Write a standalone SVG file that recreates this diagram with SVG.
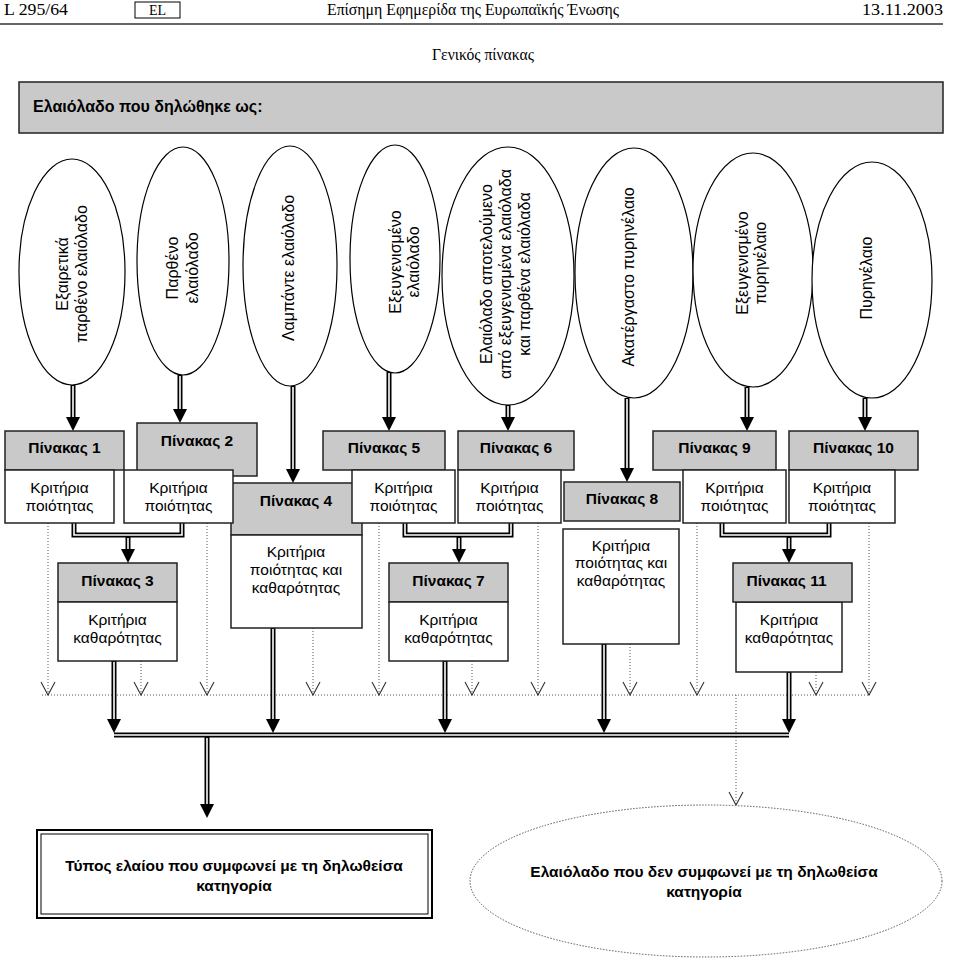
<svg xmlns="http://www.w3.org/2000/svg" width="960" height="974" viewBox="0 0 960 974">
<style>
.hd{fill:#c9c9c9;stroke:#222;stroke-width:1.5}
.bx{fill:#fff;stroke:#222;stroke-width:1.5}
.el{fill:#fff;stroke:#000;stroke-width:1.2}
.t{font-family:"Liberation Sans",Arial,sans-serif;font-size:15.5px;text-anchor:middle;fill:#000}
.e{font-size:16px}
.b{font-weight:bold}
.sr{font-family:"Liberation Serif","Times New Roman",serif;fill:#000}
.s1{stroke:#000;stroke-width:5;fill:none}
.s2{stroke:#fff;stroke-width:1.6;fill:none}
.dot{stroke:#555;stroke-width:1;stroke-dasharray:1 2;fill:none}
.v{stroke:#333;stroke-width:1.1;fill:none}
</style>
<defs>
<path id="ah" d="M-7,-14 L7,-14 L0,0 Z" fill="#000"/>
<path id="vh" d="M-7,-13 L0,0 L7,-13" class="v"/>
</defs>
<rect width="960" height="974" fill="#fff"/>

<g id="page-header">
<text class="sr" x="4" y="15" font-size="17" textLength="64" lengthAdjust="spacingAndGlyphs">L 295/64</text>
<rect x="135" y="2" width="45" height="16" fill="none" stroke="#000" stroke-width="1"/>
<text class="sr" x="157.5" y="15" font-size="14" text-anchor="middle">EL</text>
<text class="sr" x="473" y="15" font-size="17" text-anchor="middle" textLength="292" lengthAdjust="spacingAndGlyphs">Επίσημη Εφημερίδα της Ευρωπαϊκής Ένωσης</text>
<text class="sr" x="943" y="15" font-size="17" text-anchor="end" textLength="81" lengthAdjust="spacingAndGlyphs">13.11.2003</text>
<line x1="0" y1="24" x2="943" y2="24" stroke="#333" stroke-width="1.5"/>
<text class="sr" x="483" y="60" font-size="16" text-anchor="middle" textLength="102" lengthAdjust="spacingAndGlyphs">Γενικός πίνακας</text>
</g>

<g id="declared">
<rect x="19" y="82" width="924" height="51" class="hd"/>
<text class="t b" x="33" y="112" style="text-anchor:start;font-size:16px">Ελαιόλαδο που δηλώθηκε ως:</text>
</g>

<g id="connectors">
<path class="s1" d="M73,385V417 M180,375V409 M293,386V469 M389,372V417 M508,405V417 M627,398V468 M747,387V417 M865,398V417"/>
<path class="s2" d="M73,386V417 M180,376V409 M293,387V469 M389,373V417 M508,406V417 M627,399V468 M747,388V417 M865,399V417"/>
<use href="#ah" x="73" y="431"/>
<use href="#ah" x="180" y="423"/>
<use href="#ah" x="293" y="483"/>
<use href="#ah" x="389" y="431"/>
<use href="#ah" x="508" y="431"/>
<use href="#ah" x="627" y="482"/>
<use href="#ah" x="747" y="431"/>
<use href="#ah" x="865" y="431"/>
<path class="s1" d="M74,523V535H182V523 M405,523V535H511V523 M722,523V535H829V523"/>
<path class="s2" d="M74,523V535H182V523 M405,523V535H511V523 M722,523V535H829V523"/>
<path class="s1" d="M128,537V550 M459,537V550 M789,537V550"/>
<path class="s2" d="M128,538V550 M459,538V550 M789,538V550"/>
<use href="#ah" x="128" y="563"/>
<use href="#ah" x="459" y="563"/>
<use href="#ah" x="789" y="563"/>
<path class="dot" d="M48,523V695 M141,661V695 M207,523V695 M313,628V695 M379,523V695 M472,661V695 M538,523V695 M630,644V695 M697,523V695 M816,672V695 M869,523V695 M42,695H869 M736,695V805"/>
<use href="#vh" x="48" y="695"/>
<use href="#vh" x="141" y="695"/>
<use href="#vh" x="207" y="695"/>
<use href="#vh" x="313" y="695"/>
<use href="#vh" x="379" y="695"/>
<use href="#vh" x="472" y="695"/>
<use href="#vh" x="538" y="695"/>
<use href="#vh" x="630" y="695"/>
<use href="#vh" x="697" y="695"/>
<use href="#vh" x="816" y="695"/>
<use href="#vh" x="869" y="695"/>
<use href="#vh" x="736" y="805"/>
<path class="s1" d="M114,661V720 M273,628V720 M445,661V720 M604,644V720 M789,672V720 M114,735H789"/>
<path class="s2" d="M114,662V720 M273,629V720 M445,662V720 M604,645V720 M789,673V720 M114,735H789"/>
<use href="#ah" x="114" y="733"/>
<use href="#ah" x="273" y="733"/>
<use href="#ah" x="445" y="733"/>
<use href="#ah" x="604" y="733"/>
<use href="#ah" x="789" y="733"/>
<path class="s1" d="M207,737V805"/>
<path class="s2" d="M207,738V805"/>
<use href="#ah" x="207" y="818"/>
</g>

<g id="oil1">
<ellipse cx="72" cy="272" rx="53" ry="113" class="el"/>
<text class="t e" transform="translate(72.5,274) rotate(-90)"><tspan x="0" y="-4.5">Εξαιρετικά</tspan><tspan x="0" y="14.5">παρθένο ελαιόλαδο</tspan></text>
</g>
<g id="oil2">
<ellipse cx="183" cy="261" rx="46" ry="114" class="el"/>
<text class="t e" transform="translate(183,268) rotate(-90)"><tspan x="0" y="-5">Παρθένο</tspan><tspan x="0" y="15">ελαιόλαδο</tspan></text>
</g>
<g id="oil3">
<ellipse cx="290" cy="266" rx="47" ry="120" class="el"/>
<text class="t e" transform="translate(289,268) rotate(-90)" y="5">Λαμπάντε ελαιόλαδο</text>
</g>
<g id="oil4">
<ellipse cx="395" cy="259" rx="45" ry="114" class="el"/>
<text class="t e" transform="translate(405,262) rotate(-90)"><tspan x="0" y="-4">Εξευγενισμένο</tspan><tspan x="0" y="14">ελαιόλαδο</tspan></text>
</g>
<g id="oil5">
<ellipse cx="508" cy="276" rx="66" ry="129" class="el"/>
<text class="t e" transform="translate(506,274) rotate(-90)"><tspan x="0" y="-14">Ελαιόλαδο αποτελούμενο</tspan><tspan x="0" y="5">από εξευγενισμένα ελαιόλαδα</tspan><tspan x="0" y="24">και παρθένα ελαιόλαδα</tspan></text>
</g>
<g id="oil6">
<ellipse cx="634" cy="273" rx="59" ry="125" class="el"/>
<text class="t e" transform="translate(629,277) rotate(-90)" y="5">Ακατέργαστο πυρηνέλαιο</text>
</g>
<g id="oil7">
<ellipse cx="753" cy="270" rx="60" ry="117" class="el"/>
<text class="t e" transform="translate(752,263) rotate(-90)"><tspan x="0" y="-4">Εξευγενισμένο</tspan><tspan x="0" y="14">πυρηνέλαιο</tspan></text>
</g>
<g id="oil8">
<ellipse cx="872" cy="280" rx="60" ry="118" class="el"/>
<text class="t e" transform="translate(867,278) rotate(-90)" y="5">Πυρηνέλαιο</text>
</g>

<g id="table1-head"><rect x="5" y="431" width="119" height="39" class="hd"/><text class="t b" x="64.5" y="453">Πίνακας 1</text></g>
<g id="table2-head"><rect x="137" y="423" width="120" height="53" class="hd"/><text class="t b" x="197" y="446">Πίνακας 2</text></g>
<g id="table5-head"><rect x="323" y="431" width="122" height="39" class="hd"/><text class="t b" x="384" y="453">Πίνακας 5</text></g>
<g id="table6-head"><rect x="458" y="431" width="116" height="39" class="hd"/><text class="t b" x="516" y="453">Πίνακας 6</text></g>
<g id="table9-head"><rect x="653" y="431" width="123" height="39" class="hd"/><text class="t b" x="714.5" y="453">Πίνακας 9</text></g>
<g id="table10-head"><rect x="789" y="431" width="129" height="39" class="hd"/><text class="t b" x="853.5" y="453">Πίνακας 10</text></g>

<g id="table4">
<rect x="231" y="483" width="131" height="52" class="hd"/><text class="t b" x="296" y="506">Πίνακας 4</text>
<rect x="231" y="535" width="131" height="93" class="bx"/>
<text class="t" x="296" y="557">Κριτήρια</text><text class="t" x="296" y="575">ποιότητας και</text><text class="t" x="296" y="593">καθαρότητας</text>
</g>
<g id="table8">
<rect x="564" y="482" width="116" height="39" class="hd"/><text class="t b" x="622" y="504">Πίνακας 8</text>
<rect x="563" y="529" width="116" height="115" class="bx"/>
<text class="t" x="621" y="551">Κριτήρια</text><text class="t" x="621" y="568">ποιότητας και</text><text class="t" x="621" y="586">καθαρότητας</text>
</g>

<g id="quality1"><rect x="5" y="470" width="109" height="53" class="bx"/><text class="t" x="59.5" y="493">Κριτήρια</text><text class="t" x="59.5" y="511">ποιότητας</text></g>
<g id="quality2"><rect x="124" y="470" width="109" height="53" class="bx"/><text class="t" x="178.5" y="493">Κριτήρια</text><text class="t" x="178.5" y="511">ποιότητας</text></g>
<g id="quality5"><rect x="352" y="470" width="103" height="53" class="bx"/><text class="t" x="403.5" y="493">Κριτήρια</text><text class="t" x="403.5" y="511">ποιότητας</text></g>
<g id="quality6"><rect x="458" y="470" width="103" height="53" class="bx"/><text class="t" x="509.5" y="493">Κριτήρια</text><text class="t" x="509.5" y="511">ποιότητας</text></g>
<g id="quality9"><rect x="683" y="470" width="103" height="53" class="bx"/><text class="t" x="734.5" y="493">Κριτήρια</text><text class="t" x="734.5" y="511">ποιότητας</text></g>
<g id="quality10"><rect x="789" y="470" width="106" height="53" class="bx"/><text class="t" x="842" y="493">Κριτήρια</text><text class="t" x="842" y="511">ποιότητας</text></g>

<g id="table3">
<rect x="58" y="563" width="119" height="39" class="hd"/><text class="t b" x="117.5" y="586">Πίνακας 3</text>
<rect x="58" y="602" width="119" height="59" class="bx"/><text class="t" x="117.5" y="625">Κριτήρια</text><text class="t" x="117.5" y="643">καθαρότητας</text>
</g>
<g id="table7">
<rect x="389" y="563" width="119" height="39" class="hd"/><text class="t b" x="448.5" y="586">Πίνακας 7</text>
<rect x="389" y="602" width="119" height="59" class="bx"/><text class="t" x="448.5" y="625">Κριτήρια</text><text class="t" x="448.5" y="643">καθαρότητας</text>
</g>
<g id="table11">
<rect x="736" y="602" width="106" height="70" class="bx"/><text class="t" x="789" y="625">Κριτήρια</text><text class="t" x="789" y="643">καθαρότητας</text>
<rect x="733" y="563" width="119" height="39" class="hd"/><text class="t b" x="786.5" y="586">Πίνακας 11</text>
</g>

<g id="conforming">
<rect x="37" y="830" width="395" height="88" fill="#fff" stroke="#000" stroke-width="2"/>
<rect x="41" y="834" width="387" height="80" fill="none" stroke="#000" stroke-width="1"/>
<text class="t b" x="234" y="871" font-size="16.5">Τύπος ελαίου που συμφωνεί με τη δηλωθείσα</text>
<text class="t b" x="234" y="891" font-size="16.5">κατηγορία</text>
</g>
<g id="nonconforming">
<ellipse cx="706" cy="881" rx="236" ry="76" fill="#fff" stroke="#555" stroke-width="1" stroke-dasharray="1.5 1.5"/>
<text class="t b" x="704" y="877" font-size="16.5">Ελαιόλαδο που δεν συμφωνεί με τη δηλωθείσα</text>
<text class="t b" x="704" y="897" font-size="16.5">κατηγορία</text>
</g>
</svg>
